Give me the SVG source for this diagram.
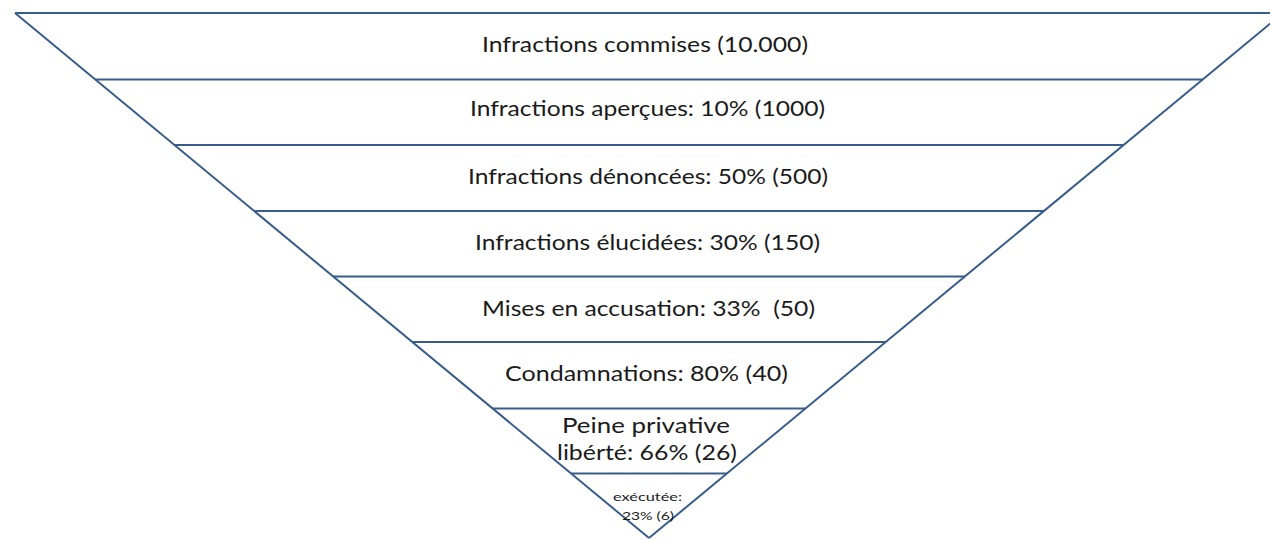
<svg xmlns="http://www.w3.org/2000/svg" width="1270" height="540" viewBox="0 0 1270 540">
<style>
.ln{stroke:#385d8a;stroke-width:2;fill:none;stroke-linecap:butt}
.t{font-family:Lato,"Liberation Sans",sans-serif;font-size:22px;fill:#1b1b1b;text-anchor:middle}
.s{font-family:Lato,"Liberation Sans",sans-serif;font-size:11px;fill:#1b1b1b;text-anchor:middle}
</style>
<rect width="1270" height="540" fill="#ffffff"/>
<g id="funnel-outline">
<line class="ln" x1="15" y1="13" x2="1270" y2="13"/>
<line class="ln" x1="15" y1="13" x2="649" y2="538"/>
<line class="ln" x1="649" y1="538" x2="1283" y2="13"/>
</g>
<g id="level1">
<text class="t" x="645" y="52" textLength="326" lengthAdjust="spacingAndGlyphs">Infractions commises (10.000)</text>
<line class="ln" x1="95.3" y1="79.5" x2="1202.7" y2="79.5"/>
</g>
<g id="level2">
<text class="t" x="647.5" y="115.5" textLength="355" lengthAdjust="spacingAndGlyphs">Infractions aperçues: 10% (1000)</text>
<line class="ln" x1="174.4" y1="145" x2="1123.6" y2="145"/>
</g>
<g id="level3">
<text class="t" x="648" y="183.5" textLength="360" lengthAdjust="spacingAndGlyphs">Infractions dénoncées: 50% (500)</text>
<line class="ln" x1="254.1" y1="211" x2="1043.9" y2="211"/>
</g>
<g id="level4">
<text class="t" x="647.5" y="250" textLength="345" lengthAdjust="spacingAndGlyphs">Infractions élucidées: 30% (150)</text>
<line class="ln" x1="333.2" y1="276.5" x2="964.8" y2="276.5"/>
</g>
<g id="level5">
<text class="t" x="648.5" y="316" textLength="333" lengthAdjust="spacingAndGlyphs" xml:space="preserve">Mises en accusation: 33%  (50)</text>
<line class="ln" x1="412.3" y1="342" x2="885.7" y2="342"/>
</g>
<g id="level6">
<text class="t" x="646.5" y="380.5" textLength="283" lengthAdjust="spacingAndGlyphs">Condamnations: 80% (40)</text>
<line class="ln" x1="492.6" y1="408.5" x2="805.4" y2="408.5"/>
</g>
<g id="level7">
<text class="t" x="646" y="433" textLength="168" lengthAdjust="spacingAndGlyphs">Peine privative</text>
<text class="t" x="647" y="460" textLength="180" lengthAdjust="spacingAndGlyphs">libérté: 66% (26)</text>
<line class="ln" x1="571.1" y1="473.5" x2="726.9" y2="473.5"/>
</g>
<g id="level8">
<text class="s" x="647.5" y="501" textLength="69" lengthAdjust="spacingAndGlyphs">exécutée:</text>
<text class="s" x="648" y="520" textLength="52" lengthAdjust="spacingAndGlyphs">23% (6)</text>
</g>
</svg>
